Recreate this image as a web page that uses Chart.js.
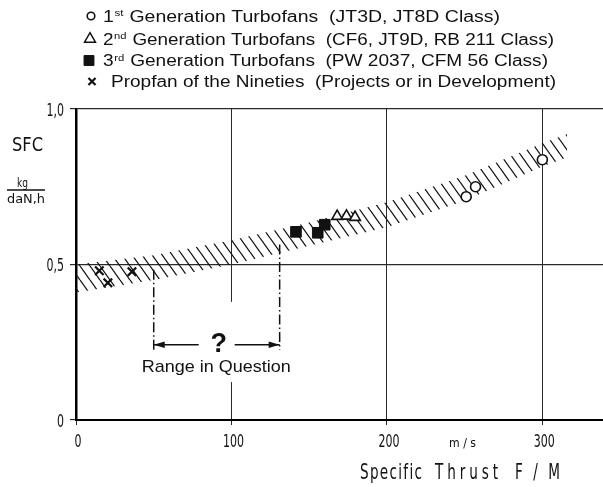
<!DOCTYPE html>
<html>
<head>
<meta charset="utf-8">
<script src="https://cdn.jsdelivr.net/npm/chart.js@4.4.0/dist/chart.umd.min.js"></script>
<style>
  html, body { margin: 0; padding: 0; background: #fff; }
</style>
</head>
<body>
<canvas id="chart" width="603" height="487"></canvas>
<script>
// values
const gen1X = [251, 257, 300]
const gen1Y = [0.718, 0.750, 0.837]
const gen2X = [168, 174, 179.5]
const gen2Y = [0.655, 0.656, 0.652]
const gen3X = [141.5, 155.5, 160]
const gen3Y = [0.605, 0.602, 0.628]
const propX = [15, 20.5, 36]
const propY = [0.480, 0.441, 0.477]

// hatched trend band
const bandX = [0, 50, 100, 150, 200, 250, 300, 316]
const bandTop = [0.50, 0.53, 0.578, 0.635, 0.70, 0.785, 0.89, 0.92]
const bandBottom = [0.41, 0.45, 0.50, 0.56, 0.62, 0.705, 0.815, 0.845]

// "range in question"
const rangeX = [50, 131]
const rangeTopY = [0.483, 0.564]
const rangeBottomY = 0.225
const rangeArrowY = 0.242

const xTicks = [0, 100, 200, 300]
const xTickLabels = ["0", "100", "200", "300"]
const yTicks = [0, 0.5, 1]
const yTickLabels = ["0", "0,5", "1,0"]

const legendOrdinals = ["1", "2", "3", ""]
const legendSuffixes = ["st", "nd", "rd", ""]
const legendTexts = [
  " Generation Turbofans  (JT3D, JT8D Class)",
  " Generation Turbofans  (CF6, JT9D, RB 211 Class)",
  " Generation Turbofans  (PW 2037, CFM 56 Class)",
  "Propfan of the Nineties  (Projects or in Development)"
]

const pts = (xs, ys) => xs.map((x, i) => ({x: x, y: ys[i]}))

function hatch() {
  const c = document.createElement("canvas")
  c.width = 10
  c.height = 14
  const g = c.getContext("2d")
  g.strokeStyle = "#151515"
  g.lineWidth = 1.3
  g.beginPath()
  for (const o of [-10, 0, 10]) {
    g.moveTo(o, 0)
    g.lineTo(o + 10, 14)
  }
  g.stroke()
  return g.createPattern(c, "repeat")
}

const INK = "#111"
const SANS = '"Liberation Sans", Arial, sans-serif'
const DIN = '"DejaVu Sans Condensed", "DejaVu Sans", sans-serif'

function squeeze(ctx, text, x, y, k, align) {
  ctx.save()
  ctx.translate(x, y)
  ctx.scale(k, 1)
  ctx.textAlign = align || "left"
  ctx.fillText(text, 0, 0)
  ctx.restore()
}

function fit(ctx, text, x, y, w, align) {
  squeeze(ctx, text, x, y, w / ctx.measureText(text).width, align)
}

// narrow glyphs, spread out to the given width (DIN-like look)
function spaced(ctx, text, x, y, w, k) {
  const nat = ctx.measureText(text).width
  const gap = Math.max(0, (w / k - nat) / (text.length - 1))
  ctx.save()
  ctx.translate(x, y)
  ctx.scale(k, 1)
  ctx.textAlign = "left"
  let cx = 0
  for (const ch of text) {
    ctx.fillText(ch, cx, 0)
    cx += ctx.measureText(ch).width + gap
  }
  ctx.restore()
}

const markerStyles = [
  {pointStyle: "circle", radius: 3.8, fill: "#fff", lw: 1.6},
  {pointStyle: "triangle", radius: 6.3, fill: "#fff", lw: 1.5},
  {pointStyle: "rect", radius: 7, fill: INK, lw: 1},
  {pointStyle: "crossRot", radius: 5, fill: INK, lw: 2.2}
]

const decor = {
  id: "decor",
  afterDatasetsDraw(chart) {
    const ctx = chart.ctx
    const xs = chart.scales.x
    const ys = chart.scales.y
    ctx.save()
    ctx.fillStyle = INK
    ctx.strokeStyle = INK
    ctx.textBaseline = "alphabetic"

    // legend
    const rowBase = [21.5, 44.5, 66, 87]
    const rowStart = [103, 103, 103, 111]
    const rowEnd = [500, 554, 548, 556]
    const markX = [91, 90, 89, 92]
    for (let i = 0; i < legendTexts.length; i++) {
      const m = markerStyles[i]
      ctx.fillStyle = m.fill
      ctx.lineWidth = m.lw
      Chart.helpers.drawPoint(ctx, {pointStyle: m.pointStyle, radius: m.radius, rotation: 0, borderWidth: m.lw}, markX[i], rowBase[i] - 5.5)
      ctx.fillStyle = INK
      const big = "16px " + SANS
      const small = "9.5px " + SANS
      ctx.font = big
      let w = ctx.measureText(legendOrdinals[i] + legendTexts[i]).width
      ctx.font = small
      const sw = legendSuffixes[i] ? ctx.measureText(legendSuffixes[i]).width + 1 : 0
      w += sw
      const k = (rowEnd[i] - rowStart[i]) / w
      ctx.save()
      ctx.translate(rowStart[i], rowBase[i])
      ctx.scale(k, 1)
      ctx.textAlign = "left"
      ctx.font = big
      ctx.fillText(legendOrdinals[i], 0, 0)
      let cx = ctx.measureText(legendOrdinals[i]).width
      if (legendSuffixes[i]) {
        ctx.font = small
        ctx.fillText(legendSuffixes[i], cx + 0.5, -5.5)
        cx += sw
      }
      ctx.font = big
      ctx.fillText(legendTexts[i], cx, 0)
      ctx.restore()
    }

    // tick labels
    ctx.font = "18px " + DIN
    yTicks.forEach((v, i) => {
      squeeze(ctx, yTickLabels[i], 64, ys.getPixelForValue(v) + 6.5, 0.68, "right")
    })
    xTicks.forEach((v, i) => {
      squeeze(ctx, xTickLabels[i], xs.getPixelForValue(v) + 2, 447, 0.68, "center")
    })

    // axis titles
    ctx.font = "20px " + DIN
    fit(ctx, "SFC", 12, 150.5, 31)
    ctx.font = "12px " + DIN
    fit(ctx, "kg", 17, 186.5, 11)
    fit(ctx, "daN,h", 7, 203, 38)
    ctx.lineWidth = 1.3
    ctx.beginPath()
    ctx.moveTo(7, 190)
    ctx.lineTo(45, 190)
    ctx.stroke()
    ctx.font = "13px " + DIN
    fit(ctx, "m / s", 449, 447, 27)
    ctx.font = "21px " + DIN
    spaced(ctx, "Specific", 360, 478.5, 62, 0.72)
    spaced(ctx, "Thrust", 435, 478.5, 63, 0.72)
    spaced(ctx, "F/M", 515, 478.5, 45, 0.72)

    // range in question
    const gx = xs.getPixelForValue(100)
    ctx.fillStyle = "#fff"
    ctx.fillRect(gx - 2, ys.getPixelForValue(0.38), 4, ys.getPixelForValue(0.122) - ys.getPixelForValue(0.38))
    ctx.fillStyle = INK
    const yb = ys.getPixelForValue(rangeBottomY)
    ctx.lineWidth = 1.5
    ctx.setLineDash([10, 3, 1.5, 3])
    rangeX.forEach((v, i) => {
      const px = xs.getPixelForValue(v)
      ctx.beginPath()
      ctx.moveTo(px, ys.getPixelForValue(rangeTopY[i]))
      ctx.lineTo(px, yb)
      ctx.stroke()
    })
    ctx.setLineDash([])
    const ay = ys.getPixelForValue(rangeArrowY)
    const x1 = xs.getPixelForValue(rangeX[0])
    const x2 = xs.getPixelForValue(rangeX[1])
    const mid = (x1 + x2) / 2
    ctx.lineWidth = 1.4
    ctx.beginPath()
    ctx.moveTo(x1, ay)
    ctx.lineTo(mid - 18, ay)
    ctx.moveTo(mid + 18, ay)
    ctx.lineTo(x2, ay)
    ctx.stroke()
    ctx.beginPath()
    ctx.moveTo(x1, ay)
    ctx.lineTo(x1 + 11, ay - 3.2)
    ctx.lineTo(x1 + 11, ay + 3.2)
    ctx.closePath()
    ctx.moveTo(x2, ay)
    ctx.lineTo(x2 - 11, ay - 3.2)
    ctx.lineTo(x2 - 11, ay + 3.2)
    ctx.closePath()
    ctx.fill()
    ctx.font = "bold 27px " + SANS
    ctx.textAlign = "center"
    ctx.fillText("?", mid + 2, ay + 7)
    ctx.font = "17px " + SANS
    fit(ctx, "Range in Question", mid - 0.5, ay + 27, 149, "center")
    ctx.restore()
  }
}

const pointBase = {borderColor: INK, showLine: false}

new Chart(document.getElementById("chart"), {
  type: "scatter",
  data: {
    datasets: [
      Object.assign({label: "1st Generation", data: pts(gen1X, gen1Y), pointStyle: "circle", pointRadius: 5, borderWidth: 1.6, backgroundColor: "#fff"}, pointBase),
      Object.assign({label: "2nd Generation", data: pts(gen2X, gen2Y), pointStyle: "triangle", pointRadius: 6.2, borderWidth: 1.6, backgroundColor: "#fff"}, pointBase),
      Object.assign({label: "3rd Generation", data: pts(gen3X, gen3Y), pointStyle: "rect", pointRadius: 7.5, borderWidth: 1, backgroundColor: INK}, pointBase),
      Object.assign({label: "Propfan", data: pts(propX, propY), pointStyle: "crossRot", pointRadius: 6, borderWidth: 2.2, backgroundColor: INK}, pointBase),
      {type: "line", label: "band top", data: pts(bandX, bandTop), borderWidth: 0, pointRadius: 0, fill: "+1", backgroundColor: hatch(), order: 10},
      {type: "line", label: "band bottom", data: pts(bandX, bandBottom), borderWidth: 0, pointRadius: 0, fill: false, order: 10}
    ]
  },
  options: {
    responsive: false,
    animation: false,
    layout: {autoPadding: false, padding: {top: 109, right: 0, left: 0, bottom: 0}},
    plugins: {legend: {display: false}, tooltip: {enabled: false}},
    scales: {
      x: {
        type: "linear", min: 0, max: 339,
        afterBuildTicks: s => { s.ticks = xTicks.map(v => ({value: v})) },
        afterFit: s => { s.height = 67 },
        ticks: {display: false},
        grid: {color: "#2a2a2a", lineWidth: 1, tickLength: 5},
        border: {color: "#000", width: 2}
      },
      y: {
        min: 0, max: 1,
        afterBuildTicks: s => { s.ticks = yTicks.map(v => ({value: v})) },
        afterFit: s => { s.width = 76 },
        ticks: {display: false},
        grid: {color: "#2a2a2a", lineWidth: 1.2, tickLength: 6},
        border: {color: "#000", width: 2.5}
      }
    }
  },
  plugins: [decor]
})
</script>
</body>
</html>
